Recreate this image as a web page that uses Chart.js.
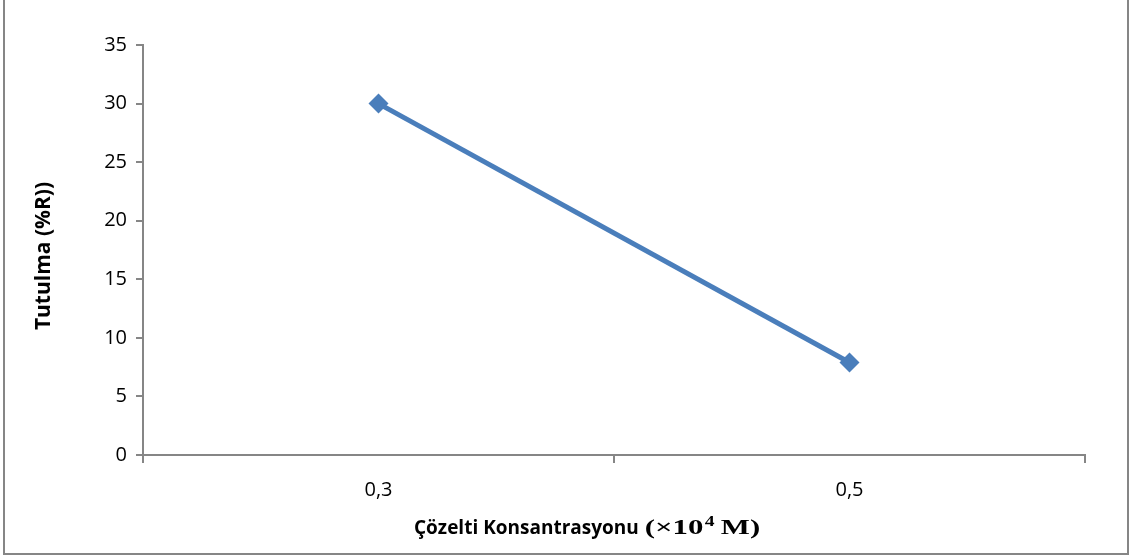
<!DOCTYPE html>
<html>
<head>
<meta charset="utf-8">
<script src="https://cdn.jsdelivr.net/npm/chart.js@4/dist/chart.umd.min.js"></script>
<style>
html, body { margin: 0; padding: 0; background: #fff; }
#wrap { width: 1130px; height: 559px; position: relative; }
</style>
</head>
<body>
<div id="wrap"><canvas id="chart"></canvas></div>
<script>
const categories = ['0,3', '0,5']
const retention = [30, 7.9]
const yTicks = [0, 5, 10, 15, 20, 25, 30, 35]

const axisGray = '#868686'
const lineBlue = '#4a7ebb'

// frame and two-font axis titles
const decorPlugin = {
    id: 'decor',
    afterDraw(chart){
        const ctx = chart.ctx
        ctx.save()
        ctx.strokeStyle = axisGray
        ctx.lineWidth = 2
        ctx.beginPath()
        ctx.moveTo(4, -2)
        ctx.lineTo(4, 554)
        ctx.lineTo(1128, 554)
        ctx.lineTo(1128, -2)
        ctx.stroke()

        ctx.fillStyle = '#000'
        ctx.textBaseline = 'alphabetic'
        const sansPart = 'Çözelti Konsantrasyonu'
        const fA = 'bold 19px "Open Sans"'
        const fB = 'bold 22px "Liberation Serif"'
        const fC = 'bold 14px "Liberation Serif"'
        ctx.font = fA
        const wA = ctx.measureText(sansPart).width
        ctx.font = fB
        const wOpen = ctx.measureText('(×10').width
        ctx.font = fC
        const wSup = ctx.measureText('4').width
        const stretch = 1.4
        let x = 414
        const y = 534
        ctx.font = fA
        ctx.fillText(sansPart, x, y)
        x += wA + 6
        ctx.save()
        ctx.translate(x, y)
        ctx.scale(stretch, 1)
        ctx.font = fB
        ctx.fillText('(×10', 0, 0)
        ctx.font = fC
        ctx.fillText('4', wOpen + 1, -8)
        ctx.font = fB
        ctx.fillText(' M)', wOpen + wSup, 0)
        ctx.restore()

        ctx.translate(50, 256)
        ctx.rotate(-Math.PI / 2)
        ctx.font = 'bold 21px "Open Sans"'
        ctx.textAlign = 'center'
        ctx.fillText('Tutulma (%R))', 0, 0)
        ctx.restore()
    }
}

new Chart(document.getElementById('chart'), {
    type: 'line',
    data: {
        labels: categories,
        datasets: [{
            data: retention,
            borderColor: lineBlue,
            backgroundColor: lineBlue,
            borderWidth: 5,
            pointStyle: 'rectRot',
            pointRadius: 10,
            pointHoverRadius: 10,
            pointBackgroundColor: lineBlue,
            pointBorderColor: lineBlue,
            pointBorderWidth: 0,
            tension: 0
        }]
    },
    options: {
        responsive: true,
        maintainAspectRatio: false,
        animation: false,
        layout: { padding: { left: 0, right: 45, top: 45, bottom: 0 } },
        plugins: {
            legend: { display: false },
            tooltip: { enabled: false }
        },
        scales: {
            x: {
                offset: true,
                grid: {
                    offset: true,
                    drawOnChartArea: false,
                    drawTicks: true,
                    tickLength: 8,
                    color: axisGray,
                    lineWidth: 2
                },
                border: { color: axisGray, width: 2 },
                ticks: {
                    color: '#000',
                    font: { family: '"Open Sans"', size: 20 },
                    padding: 15
                },
                afterFit(scale){ scale.height = 104 }
            },
            y: {
                min: 0,
                max: 35,
                afterBuildTicks(scale){ scale.ticks = yTicks.map(v => ({ value: v })) },
                grid: {
                    drawOnChartArea: false,
                    drawTicks: true,
                    tickLength: 7,
                    color: axisGray,
                    lineWidth: 2
                },
                border: { color: axisGray, width: 2 },
                ticks: {
                    color: '#000',
                    font: { family: '"Open Sans"', size: 20 },
                    padding: 9
                },
                afterFit(scale){ scale.width = 143 }
            }
        }
    },
    plugins: [decorPlugin]
})
</script>
</body>
</html>
